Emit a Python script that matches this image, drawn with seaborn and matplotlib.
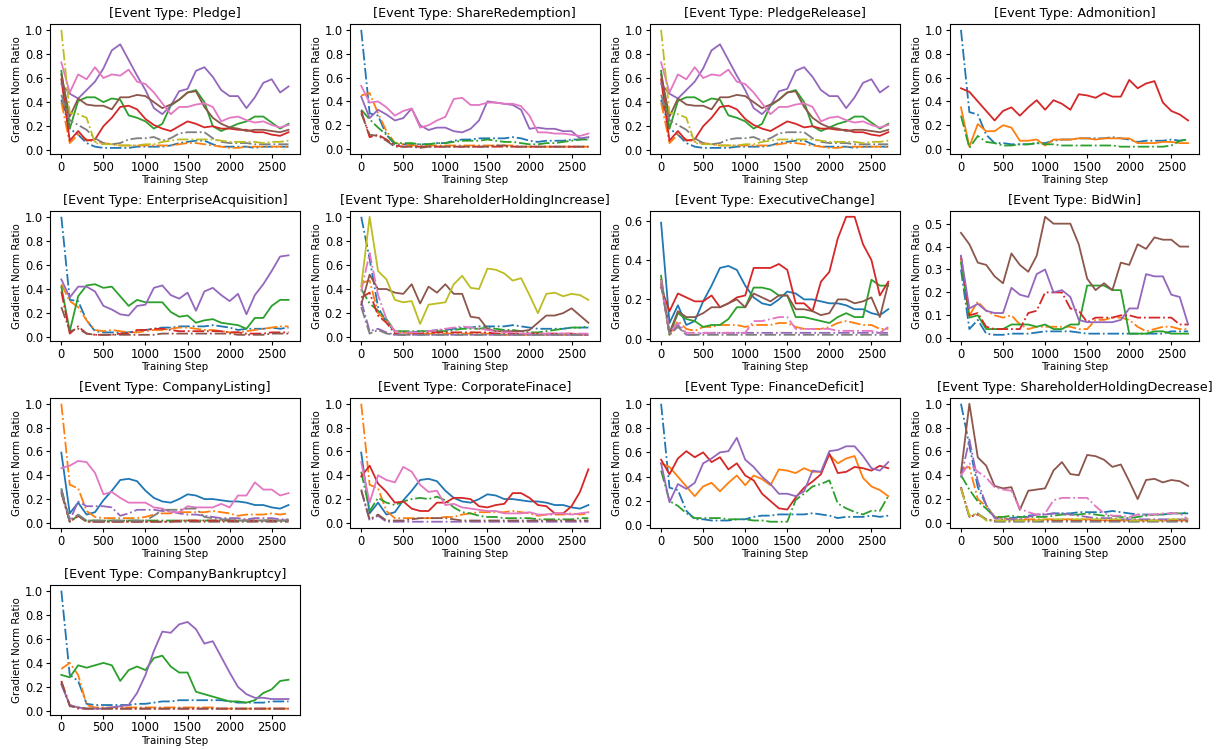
import matplotlib
matplotlib.use("Agg")
import matplotlib.pyplot as plt
from matplotlib.ticker import MaxNLocator
import seaborn as sns

STEPS = list(range(0, 2800, 100))

# ---- Pledge / PledgeRelease ----
pl_blue = [0.42,0.18,0.13,0.06,0.03,0.02,0.02, 0.02,0.02,0.03,0.03,0.03,0.03,0.04, 0.06,0.07,0.08,0.08,0.05,0.03,0.03, 0.03,0.03,0.02,0.03,0.03,0.03,0.03]
pl_orange = [0.40,0.06,0.13,0.09,0.07,0.06,0.05, 0.04,0.04,0.04,0.04,0.04,0.04,0.04, 0.05,0.06,0.06,0.05,0.04,0.03,0.02, 0.02,0.03,0.03,0.03,0.03,0.03,0.03]
pl_green = [0.66,0.18,0.41,0.44,0.44,0.40,0.43, 0.42,0.29,0.27,0.24,0.18,0.22,0.37, 0.42,0.48,0.50,0.40,0.20,0.16,0.19, 0.22,0.24,0.28,0.28,0.23,0.18,0.22]
pl_red = [0.59,0.08,0.16,0.08,0.09,0.20,0.27, 0.36,0.37,0.34,0.26,0.21,0.18,0.16, 0.20,0.24,0.22,0.19,0.20,0.18,0.18, 0.17,0.17,0.15,0.15,0.13,0.12,0.15]
pl_purple = [0.55,0.47,0.43,0.50,0.57,0.68,0.83, 0.88,0.75,0.62,0.50,0.35,0.30,0.37, 0.49,0.51,0.66,0.69,0.61,0.50,0.45, 0.45,0.35,0.44,0.56,0.59,0.48,0.53]
pl_brown = [0.63,0.28,0.43,0.38,0.37,0.37,0.34, 0.44,0.44,0.46,0.45,0.40,0.35,0.38, 0.42,0.48,0.49,0.36,0.27,0.22,0.19, 0.18,0.16,0.17,0.17,0.16,0.15,0.17]
pl_pink = [0.73,0.48,0.63,0.59,0.69,0.60,0.63, 0.62,0.67,0.57,0.55,0.48,0.39,0.30, 0.36,0.36,0.38,0.39,0.36,0.24,0.27, 0.28,0.25,0.23,0.24,0.21,0.19,0.21]
pl_gray = [0.46,0.25,0.21,0.17,0.10,0.06,0.05, 0.06,0.09,0.10,0.10,0.11,0.08,0.10, 0.14,0.15,0.15,0.15,0.10,0.07,0.06, 0.06,0.06,0.05,0.05,0.05,0.05,0.05]
pl_olive = [1.00,0.31,0.30,0.27,0.06,0.05,0.05, 0.04,0.04,0.04,0.05,0.05,0.07,0.08, 0.09,0.09,0.09,0.09,0.09,0.08,0.07, 0.07,0.07,0.07,0.06,0.07,0.07,0.08]

# ---- ShareRedemption ----
sr_blue = [1.00,0.30,0.28,0.12,0.04,0.04,0.04, 0.04,0.04,0.05,0.05,0.07,0.08,0.08, 0.09,0.09,0.09,0.09,0.10,0.09,0.07, 0.06,0.07,0.07,0.07,0.08,0.08,0.09]
sr_orange = [0.45,0.47,0.30,0.15,0.05,0.04,0.03, 0.03,0.03,0.03,0.03,0.03,0.03,0.03, 0.03,0.03,0.03,0.03,0.03,0.02,0.02, 0.02,0.02,0.02,0.02,0.02,0.02,0.02]
sr_green = [0.33,0.25,0.18,0.12,0.05,0.05,0.05, 0.04,0.04,0.05,0.05,0.06,0.07,0.07, 0.07,0.08,0.07,0.06,0.06,0.05,0.04, 0.04,0.05,0.05,0.06,0.07,0.08,0.08]
sr_red = [0.32,0.10,0.12,0.08,0.03,0.02,0.02, 0.02,0.02,0.02,0.02,0.02,0.02,0.02, 0.02,0.02,0.02,0.02,0.02,0.02,0.02, 0.02,0.02,0.02,0.02,0.02,0.02,0.02]
sr_purple = [0.44,0.26,0.33,0.29,0.24,0.26,0.34, 0.20,0.16,0.18,0.18,0.15,0.14,0.17, 0.24,0.40,0.39,0.38,0.37,0.33,0.17, 0.18,0.17,0.17,0.15,0.15,0.09,0.10]
sr_brown = [0.30,0.12,0.11,0.07,0.02,0.02,0.02, 0.01,0.02,0.02,0.02,0.02,0.02,0.02, 0.02,0.02,0.03,0.03,0.02,0.02,0.02, 0.02,0.02,0.02,0.02,0.02,0.02,0.02]
sr_pink = [0.53,0.39,0.40,0.35,0.28,0.32,0.34, 0.18,0.20,0.24,0.27,0.42,0.43,0.37, 0.37,0.39,0.39,0.38,0.38,0.36,0.28, 0.14,0.14,0.13,0.13,0.12,0.11,0.13]

# ---- Admonition ----
ad_blue = [1.00,0.31,0.29,0.12,0.05,0.05,0.04, 0.04,0.04,0.05,0.05,0.07,0.08,0.08, 0.09,0.09,0.09,0.09,0.10,0.09,0.08, 0.06,0.07,0.07,0.07,0.08,0.07,0.08]
ad_orange = [0.35,0.02,0.21,0.15,0.15,0.20,0.18, 0.07,0.07,0.08,0.03,0.08,0.08,0.08, 0.09,0.09,0.08,0.09,0.09,0.09,0.09, 0.05,0.05,0.05,0.06,0.06,0.05,0.05]
ad_green = [0.28,0.01,0.11,0.06,0.05,0.03,0.03, 0.04,0.04,0.05,0.04,0.04,0.03,0.03, 0.03,0.03,0.03,0.03,0.03,0.02,0.02, 0.02,0.02,0.02,0.02,0.03,0.07,0.08]
ad_red = [0.51,0.48,0.40,0.32,0.24,0.32,0.35, 0.28,0.35,0.41,0.33,0.41,0.38,0.33, 0.46,0.45,0.43,0.47,0.44,0.44,0.58, 0.51,0.55,0.57,0.39,0.32,0.29,0.24]

# ---- EnterpriseAcquisition ----
ea_blue = [1.00,0.31,0.30,0.14,0.05,0.04,0.04, 0.04,0.04,0.05,0.06,0.07,0.08,0.08, 0.09,0.09,0.09,0.09,0.10,0.09,0.08, 0.06,0.07,0.07,0.07,0.08,0.07,0.08]
ea_orange = [0.44,0.30,0.25,0.14,0.06,0.05,0.06, 0.05,0.04,0.04,0.05,0.06,0.06,0.07, 0.08,0.08,0.07,0.06,0.06,0.05,0.04, 0.04,0.05,0.06,0.07,0.08,0.09,0.09]
ea_green = [0.42,0.05,0.34,0.43,0.44,0.41,0.42, 0.34,0.26,0.31,0.29,0.29,0.29,0.21, 0.17,0.18,0.12,0.14,0.15,0.12,0.11, 0.10,0.07,0.16,0.16,0.26,0.31,0.31]
ea_red = [0.38,0.03,0.09,0.03,0.02,0.02,0.02, 0.03,0.03,0.06,0.06,0.07,0.07,0.06, 0.05,0.05,0.05,0.05,0.05,0.05,0.04, 0.04,0.03,0.03,0.03,0.04,0.04,0.04]
ea_purple = [0.48,0.33,0.42,0.42,0.38,0.26,0.23, 0.19,0.18,0.26,0.27,0.41,0.43,0.35, 0.32,0.37,0.22,0.38,0.41,0.35,0.30, 0.36,0.19,0.35,0.44,0.55,0.67,0.68]
ea_brown = [0.25,0.05,0.07,0.03,0.02,0.02,0.02, 0.02,0.02,0.02,0.02,0.02,0.03,0.03, 0.03,0.03,0.03,0.03,0.03,0.03,0.03, 0.02,0.02,0.02,0.02,0.03,0.03,0.03]

# ---- ShareholderHoldingIncrease ----
hi_blue = [1.00,0.65,0.25,0.12,0.05,0.04,0.04, 0.05,0.05,0.06,0.06,0.07,0.08,0.08, 0.09,0.09,0.09,0.09,0.10,0.09,0.08, 0.07,0.07,0.07,0.07,0.08,0.08,0.08]
hi_orange = [0.45,0.47,0.20,0.14,0.05,0.04,0.03, 0.03,0.03,0.03,0.03,0.03,0.03,0.03, 0.03,0.03,0.03,0.02,0.02,0.02,0.02, 0.02,0.02,0.02,0.02,0.02,0.02,0.02]
hi_green = [0.40,0.28,0.22,0.15,0.05,0.05,0.05, 0.05,0.05,0.05,0.05,0.06,0.07,0.07, 0.07,0.08,0.07,0.06,0.06,0.05,0.04, 0.04,0.05,0.06,0.07,0.08,0.08,0.09]
hi_red = [0.33,0.37,0.18,0.12,0.03,0.02,0.03, 0.03,0.04,0.04,0.04,0.04,0.04,0.04, 0.04,0.04,0.03,0.03,0.03,0.03,0.03, 0.03,0.03,0.03,0.03,0.03,0.02,0.02]
hi_purple = [0.30,0.05,0.07,0.04,0.02,0.02,0.02, 0.02,0.02,0.02,0.02,0.02,0.02,0.02, 0.02,0.02,0.02,0.02,0.02,0.02,0.02, 0.02,0.02,0.02,0.02,0.02,0.02,0.02]
hi_brown = [0.27,0.52,0.40,0.40,0.37,0.36,0.44, 0.28,0.42,0.37,0.44,0.36,0.36,0.17, 0.16,0.07,0.05,0.05,0.05,0.05,0.06, 0.12,0.18,0.18,0.20,0.24,0.18,0.12]
hi_pink = [0.38,0.70,0.35,0.15,0.05,0.04,0.04, 0.04,0.05,0.06,0.07,0.08,0.09,0.08, 0.07,0.06,0.05,0.04,0.04,0.03,0.03, 0.03,0.03,0.03,0.03,0.03,0.03,0.03]
hi_gray = [0.25,0.03,0.06,0.03,0.02,0.02,0.02, 0.02,0.02,0.02,0.02,0.02,0.02,0.02, 0.02,0.02,0.02,0.02,0.02,0.02,0.02, 0.02,0.02,0.02,0.02,0.02,0.02,0.02]
hi_olive = [0.42,1.00,0.55,0.48,0.31,0.29,0.30, 0.11,0.27,0.28,0.29,0.44,0.51,0.41, 0.40,0.57,0.56,0.53,0.47,0.49,0.35, 0.20,0.36,0.37,0.34,0.36,0.35,0.31]

# ---- ExecutiveChange ----
ec_blue = [0.59,0.08,0.17,0.07,0.09,0.19,0.27, 0.36,0.37,0.35,0.27,0.21,0.18,0.17, 0.20,0.24,0.23,0.20,0.20,0.19,0.18, 0.18,0.17,0.15,0.15,0.13,0.12,0.15]
ec_orange = [0.29,0.02,0.09,0.05,0.04,0.06,0.06, 0.07,0.07,0.07,0.06,0.07,0.07,0.07, 0.08,0.08,0.06,0.05,0.05,0.05,0.06, 0.08,0.09,0.08,0.07,0.07,0.05,0.05]
ec_green = [0.32,0.02,0.13,0.10,0.09,0.06,0.07, 0.07,0.10,0.16,0.16,0.26,0.26,0.25, 0.22,0.22,0.11,0.11,0.10,0.09,0.08, 0.11,0.13,0.11,0.11,0.30,0.27,0.27]
ec_red = [0.26,0.14,0.23,0.21,0.19,0.19,0.22, 0.16,0.18,0.21,0.22,0.36,0.36,0.36, 0.38,0.35,0.18,0.18,0.14,0.29,0.34, 0.51,0.62,0.62,0.48,0.40,0.22,0.29]
ec_purple = [0.28,0.02,0.07,0.02,0.02,0.03,0.03, 0.03,0.03,0.03,0.03,0.03,0.03,0.03, 0.03,0.03,0.03,0.03,0.03,0.03,0.03, 0.03,0.03,0.03,0.03,0.03,0.03,0.03]
ec_brown = [0.30,0.03,0.14,0.11,0.11,0.13,0.16, 0.16,0.18,0.20,0.16,0.23,0.21,0.19, 0.22,0.22,0.15,0.15,0.14,0.12,0.13, 0.20,0.20,0.18,0.19,0.21,0.11,0.28]
ec_pink = [0.30,0.03,0.08,0.03,0.03,0.03,0.03, 0.03,0.03,0.03,0.03,0.09,0.09,0.10, 0.11,0.11,0.05,0.05,0.05,0.05,0.05, 0.04,0.04,0.04,0.04,0.04,0.03,0.06]
ec_gray = [0.28,0.02,0.06,0.02,0.02,0.02,0.02, 0.02,0.02,0.02,0.02,0.02,0.02,0.02, 0.02,0.02,0.02,0.02,0.02,0.02,0.02, 0.02,0.02,0.02,0.02,0.02,0.02,0.02]

# ---- BidWin ----
bw_blue = [0.30,0.04,0.08,0.02,0.015,0.015,0.02, 0.02,0.02,0.025,0.03,0.03,0.03,0.03, 0.025,0.02,0.02,0.02,0.02,0.02,0.02, 0.02,0.02,0.02,0.02,0.03,0.03,0.03]
bw_orange = [0.35,0.10,0.16,0.12,0.10,0.09,0.10, 0.06,0.04,0.05,0.05,0.05,0.05,0.05, 0.04,0.04,0.08,0.08,0.09,0.09,0.08, 0.05,0.03,0.04,0.05,0.05,0.04,0.04]
bw_green = [0.33,0.09,0.10,0.04,0.04,0.04,0.06, 0.06,0.06,0.05,0.06,0.04,0.04,0.06, 0.06,0.23,0.23,0.23,0.21,0.21,0.02, 0.02,0.02,0.03,0.03,0.02,0.02,0.02]
bw_red = [0.36,0.10,0.11,0.05,0.04,0.04,0.04, 0.04,0.11,0.12,0.20,0.20,0.20,0.13, 0.12,0.07,0.09,0.09,0.09,0.10,0.10, 0.09,0.09,0.09,0.09,0.09,0.06,0.06]
bw_purple = [0.36,0.13,0.15,0.12,0.11,0.11,0.22, 0.19,0.18,0.28,0.30,0.20,0.21,0.18, 0.08,0.07,0.07,0.07,0.07,0.08,0.13, 0.13,0.28,0.27,0.27,0.19,0.18,0.06]
bw_brown = [0.46,0.41,0.33,0.32,0.27,0.24,0.37, 0.32,0.29,0.36,0.53,0.50,0.50,0.50, 0.41,0.26,0.21,0.24,0.21,0.33,0.32, 0.41,0.39,0.44,0.43,0.43,0.40,0.40]

# ---- CompanyListing ----
cl_blue = [0.59,0.08,0.17,0.07,0.09,0.19,0.27, 0.36,0.37,0.35,0.27,0.21,0.18,0.17, 0.20,0.24,0.23,0.20,0.20,0.19,0.18, 0.18,0.17,0.15,0.15,0.13,0.12,0.15]
cl_orange = [1.00,0.32,0.29,0.10,0.05,0.04,0.04, 0.04,0.04,0.04,0.05,0.07,0.08,0.08, 0.09,0.09,0.09,0.09,0.10,0.09,0.08, 0.06,0.07,0.07,0.07,0.08,0.07,0.08]
cl_green = [0.29,0.01,0.06,0.02,0.02,0.02,0.02, 0.02,0.02,0.02,0.02,0.02,0.02,0.02, 0.02,0.02,0.02,0.02,0.02,0.02,0.02, 0.02,0.02,0.02,0.02,0.02,0.02,0.02]
cl_red = [0.26,0.01,0.06,0.01,0.01,0.01,0.01, 0.01,0.01,0.01,0.01,0.01,0.01,0.01, 0.02,0.02,0.02,0.02,0.02,0.02,0.02, 0.02,0.02,0.02,0.02,0.02,0.02,0.02]
cl_purple = [0.28,0.02,0.18,0.14,0.14,0.14,0.13, 0.06,0.08,0.11,0.11,0.11,0.10,0.10, 0.08,0.07,0.07,0.06,0.05,0.04,0.04, 0.04,0.03,0.04,0.04,0.04,0.03,0.03]
cl_brown = [0.25,0.01,0.06,0.01,0.01,0.01,0.01, 0.01,0.01,0.01,0.01,0.01,0.01,0.01, 0.01,0.01,0.01,0.01,0.01,0.01,0.01, 0.01,0.01,0.01,0.01,0.01,0.01,0.01]
cl_pink = [0.46,0.48,0.52,0.51,0.42,0.24,0.26, 0.21,0.17,0.17,0.17,0.13,0.12,0.09, 0.09,0.14,0.13,0.13,0.13,0.16,0.13, 0.23,0.23,0.34,0.28,0.28,0.23,0.25]
cl_gray = [0.27,0.02,0.07,0.02,0.02,0.02,0.02, 0.02,0.02,0.02,0.02,0.06,0.11,0.11, 0.11,0.12,0.12,0.05,0.04,0.03,0.03, 0.02,0.02,0.02,0.02,0.02,0.02,0.02]

# ---- CorporateFinace ----
cf_blue = [0.59,0.08,0.17,0.07,0.09,0.19,0.27, 0.36,0.37,0.35,0.27,0.21,0.18,0.17, 0.20,0.24,0.23,0.20,0.20,0.19,0.18, 0.18,0.17,0.15,0.15,0.13,0.12,0.15]
cf_orange = [1.00,0.32,0.29,0.10,0.04,0.04,0.04, 0.04,0.04,0.04,0.05,0.05,0.07,0.08, 0.09,0.09,0.09,0.09,0.10,0.09,0.08, 0.06,0.07,0.07,0.07,0.08,0.07,0.08]
cf_green = [0.43,0.10,0.21,0.17,0.15,0.18,0.20, 0.21,0.20,0.22,0.19,0.13,0.09,0.08, 0.06,0.05,0.05,0.04,0.04,0.04,0.04, 0.03,0.03,0.03,0.03,0.03,0.04,0.04]
cf_red = [0.39,0.48,0.33,0.26,0.17,0.18,0.12, 0.10,0.10,0.17,0.17,0.21,0.21,0.20, 0.14,0.13,0.15,0.16,0.25,0.25,0.21, 0.15,0.14,0.08,0.08,0.14,0.26,0.45]
cf_purple = [0.27,0.02,0.06,0.01,0.01,0.01,0.01, 0.01,0.01,0.01,0.01,0.01,0.01,0.01, 0.01,0.01,0.01,0.01,0.01,0.01,0.01, 0.01,0.01,0.01,0.01,0.01,0.01,0.01]
cf_brown = [0.28,0.03,0.07,0.02,0.02,0.02,0.03, 0.04,0.04,0.04,0.04,0.03,0.02,0.02, 0.02,0.02,0.02,0.02,0.02,0.02,0.02, 0.02,0.02,0.02,0.02,0.02,0.02,0.02]
cf_pink = [0.51,0.17,0.40,0.36,0.34,0.47,0.43, 0.32,0.26,0.27,0.15,0.16,0.13,0.12, 0.11,0.10,0.10,0.08,0.08,0.08,0.09, 0.07,0.07,0.08,0.08,0.07,0.08,0.09]

# ---- FinanceDeficit ----
fd_blue = [1.00,0.31,0.29,0.12,0.05,0.05,0.04, 0.04,0.04,0.05,0.05,0.07,0.08,0.08, 0.09,0.09,0.09,0.09,0.10,0.09,0.08, 0.06,0.07,0.07,0.07,0.08,0.07,0.08]
fd_orange = [0.51,0.48,0.40,0.32,0.24,0.32,0.35, 0.28,0.35,0.41,0.33,0.41,0.38,0.33, 0.46,0.45,0.43,0.47,0.44,0.44,0.58, 0.51,0.55,0.57,0.39,0.32,0.29,0.24]
fd_green = [0.45,0.20,0.16,0.10,0.06,0.06,0.06, 0.06,0.05,0.05,0.05,0.04,0.04,0.03, 0.03,0.03,0.21,0.26,0.32,0.34,0.37, 0.18,0.14,0.11,0.09,0.12,0.12,0.24]
fd_red = [0.54,0.42,0.55,0.61,0.56,0.60,0.52, 0.56,0.46,0.51,0.41,0.37,0.26,0.20, 0.14,0.13,0.23,0.31,0.36,0.42,0.59, 0.43,0.44,0.48,0.47,0.45,0.49,0.47]
fd_purple = [0.51,0.19,0.34,0.30,0.35,0.51,0.55, 0.60,0.61,0.72,0.54,0.48,0.40,0.34, 0.26,0.26,0.24,0.28,0.45,0.44,0.61, 0.62,0.65,0.65,0.57,0.47,0.45,0.52]

# ---- ShareholderHoldingDecrease ----
hd_blue = [1.00,0.65,0.30,0.15,0.05,0.04,0.04, 0.05,0.06,0.07,0.07,0.08,0.08,0.08, 0.09,0.09,0.09,0.09,0.10,0.09,0.08, 0.07,0.07,0.07,0.07,0.08,0.08,0.08]
hd_orange = [0.45,0.47,0.20,0.14,0.05,0.04,0.03, 0.03,0.03,0.03,0.03,0.03,0.03,0.03, 0.03,0.03,0.03,0.02,0.02,0.02,0.02, 0.02,0.02,0.02,0.02,0.02,0.02,0.02]
hd_green = [0.40,0.28,0.18,0.12,0.05,0.05,0.06, 0.05,0.05,0.05,0.05,0.06,0.07,0.07, 0.07,0.08,0.07,0.06,0.06,0.05,0.04, 0.05,0.06,0.07,0.07,0.08,0.08,0.09]
hd_red = [0.30,0.05,0.07,0.03,0.02,0.02,0.02, 0.02,0.02,0.02,0.02,0.02,0.02,0.02, 0.02,0.02,0.02,0.02,0.02,0.02,0.02, 0.02,0.02,0.02,0.02,0.02,0.02,0.02]
hd_purple = [0.38,0.70,0.35,0.15,0.04,0.03,0.03, 0.03,0.05,0.07,0.07,0.08,0.08,0.07, 0.06,0.05,0.04,0.04,0.04,0.03,0.03, 0.03,0.03,0.03,0.03,0.03,0.03,0.03]
hd_brown = [0.42,1.00,0.55,0.48,0.31,0.29,0.30, 0.11,0.27,0.28,0.29,0.44,0.51,0.41, 0.40,0.57,0.56,0.53,0.47,0.49,0.35, 0.20,0.36,0.37,0.34,0.36,0.35,0.31]
hd_pink = [0.40,0.50,0.43,0.38,0.30,0.28,0.27, 0.12,0.09,0.07,0.08,0.19,0.21,0.21, 0.21,0.21,0.14,0.08,0.06,0.06,0.05, 0.07,0.07,0.07,0.08,0.08,0.08,0.03]
hd_gray = [0.29,0.05,0.08,0.03,0.01,0.01,0.01, 0.01,0.01,0.01,0.01,0.01,0.01,0.01, 0.01,0.01,0.01,0.01,0.01,0.01,0.01, 0.01,0.01,0.01,0.01,0.01,0.01,0.01]
hd_olive = [0.29,0.06,0.08,0.02,0.02,0.02,0.02, 0.02,0.02,0.02,0.03,0.03,0.03,0.03, 0.03,0.03,0.03,0.03,0.03,0.03,0.02, 0.02,0.02,0.02,0.02,0.03,0.03,0.03]

# ---- CompanyBankruptcy ----
cb_blue = [1.00,0.30,0.25,0.06,0.05,0.05,0.05, 0.05,0.05,0.06,0.06,0.07,0.08,0.08, 0.09,0.09,0.09,0.09,0.09,0.09,0.08, 0.07,0.07,0.07,0.07,0.08,0.08,0.08]
cb_orange = [0.35,0.40,0.30,0.05,0.03,0.03,0.03, 0.03,0.03,0.03,0.03,0.03,0.03,0.03, 0.03,0.03,0.03,0.03,0.03,0.02,0.02, 0.02,0.02,0.02,0.02,0.02,0.02,0.02]
cb_green = [0.30,0.28,0.38,0.36,0.38,0.40,0.38, 0.25,0.34,0.37,0.34,0.44,0.46,0.37, 0.32,0.32,0.16,0.14,0.12,0.10,0.08, 0.08,0.07,0.09,0.15,0.18,0.25,0.26]
cb_red = [0.25,0.05,0.02,0.02,0.02,0.02,0.02, 0.02,0.02,0.02,0.02,0.02,0.02,0.02, 0.02,0.02,0.02,0.02,0.02,0.02,0.02, 0.02,0.02,0.02,0.02,0.02,0.02,0.02]
cb_purple = [0.22,0.05,0.03,0.02,0.02,0.02,0.03, 0.04,0.05,0.15,0.30,0.50,0.66,0.65, 0.72,0.74,0.68,0.56,0.58,0.45,0.32, 0.20,0.14,0.11,0.11,0.10,0.10,0.10]
cb_brown = [0.24,0.04,0.03,0.02,0.02,0.02,0.02, 0.02,0.02,0.02,0.02,0.02,0.02,0.02, 0.02,0.02,0.02,0.02,0.02,0.02,0.02, 0.02,0.02,0.02,0.02,0.02,0.02,0.02]

TITLES = ["Pledge", "ShareRedemption", "PledgeRelease", "Admonition",
          "EnterpriseAcquisition", "ShareholderHoldingIncrease", "ExecutiveChange", "BidWin",
          "CompanyListing", "CorporateFinace", "FinanceDeficit", "ShareholderHoldingDecrease",
          "CompanyBankruptcy"]

S, D = "-", "-."
pal = sns.color_palette("tab10")
C = {"blue": pal[0], "orange": pal[1], "green": pal[2], "red": pal[3], "purple": pal[4],
     "brown": pal[5], "pink": pal[6], "gray": pal[7], "olive": pal[8]}

pledge_series = [("blue", D, pl_blue), ("orange", D, pl_orange), ("green", S, pl_green),
                 ("red", S, pl_red), ("purple", S, pl_purple), ("brown", S, pl_brown),
                 ("pink", S, pl_pink), ("gray", D, pl_gray), ("olive", D, pl_olive)]

PANELS = [
    pledge_series,
    [("blue", D, sr_blue), ("orange", D, sr_orange), ("green", D, sr_green), ("red", D, sr_red),
     ("purple", S, sr_purple), ("brown", D, sr_brown), ("pink", S, sr_pink)],
    pledge_series,
    [("blue", D, ad_blue), ("orange", S, ad_orange), ("green", D, ad_green), ("red", S, ad_red)],
    [("blue", D, ea_blue), ("orange", D, ea_orange), ("green", S, ea_green), ("red", D, ea_red),
     ("purple", S, ea_purple), ("brown", D, ea_brown)],
    [("blue", D, hi_blue), ("orange", D, hi_orange), ("green", D, hi_green), ("red", D, hi_red),
     ("purple", D, hi_purple), ("brown", S, hi_brown), ("pink", D, hi_pink), ("gray", D, hi_gray),
     ("olive", S, hi_olive)],
    [("blue", S, ec_blue), ("orange", D, ec_orange), ("green", S, ec_green), ("red", S, ec_red),
     ("purple", D, ec_purple), ("brown", S, ec_brown), ("pink", D, ec_pink), ("gray", D, ec_gray)],
    [("blue", D, bw_blue), ("orange", D, bw_orange), ("green", S, bw_green), ("red", D, bw_red),
     ("purple", S, bw_purple), ("brown", S, bw_brown)],
    [("blue", S, cl_blue), ("orange", D, cl_orange), ("green", D, cl_green), ("red", D, cl_red),
     ("purple", D, cl_purple), ("brown", D, cl_brown), ("pink", S, cl_pink), ("gray", D, cl_gray)],
    [("blue", S, cf_blue), ("orange", D, cf_orange), ("green", D, cf_green), ("red", S, cf_red),
     ("purple", D, cf_purple), ("brown", D, cf_brown), ("pink", S, cf_pink)],
    [("blue", D, fd_blue), ("orange", S, fd_orange), ("green", D, fd_green), ("red", S, fd_red),
     ("purple", S, fd_purple)],
    [("blue", D, hd_blue), ("orange", D, hd_orange), ("green", D, hd_green), ("red", D, hd_red),
     ("purple", D, hd_purple), ("brown", S, hd_brown), ("pink", D, hd_pink), ("gray", D, hd_gray),
     ("olive", D, hd_olive)],
    [("blue", D, cb_blue), ("orange", D, cb_orange), ("green", S, cb_green), ("red", D, cb_red),
     ("purple", S, cb_purple), ("brown", D, cb_brown)],
]

fig, axes = plt.subplots(4, 4, figsize=(12.19, 7.49), dpi=100)
fig.subplots_adjust(left=0.041, right=0.984, top=0.968, bottom=0.046, wspace=0.2, hspace=0.44)
axes = axes.ravel()

for i, ax in enumerate(axes):
    if i >= len(PANELS):
        ax.remove()
        continue
    for cname, ls, vals in PANELS[i]:
        sns.lineplot(x=STEPS, y=vals, color=C[cname], linestyle=ls, linewidth=1.3, ax=ax)
    ax.set_title(f"[Event Type: {TITLES[i]}]", fontsize=9.2, pad=5)
    ax.set_xlabel("Training Step", fontsize=7.4, labelpad=1)
    ax.set_ylabel("Gradient Norm Ratio", fontsize=7.4, labelpad=2)
    ax.tick_params(labelsize=8.3, length=3, pad=2)
    ax.set_xticks([0, 500, 1000, 1500, 2000, 2500])
    ax.yaxis.set_major_locator(MaxNLocator(nbins=6, steps=[1, 2, 5, 10]))

fig.savefig("out.png", dpi=100)
